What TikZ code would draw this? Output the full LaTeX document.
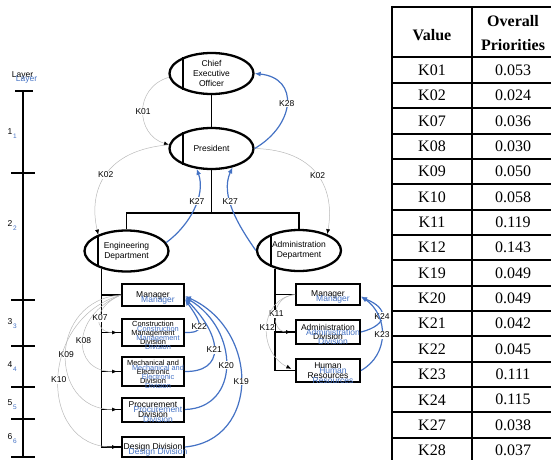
\documentclass[tikz,border=0pt]{standalone}
\usepackage{fontspec}
\setmainfont{Liberation Serif}
\setsansfont{Liberation Sans}
\usetikzlibrary{shapes.geometric,arrows.meta}
\definecolor{lblue}{RGB}{68,114,196}
\definecolor{lgray}{RGB}{185,185,185}
\newcommand{\boxfont}{\sffamily\fontsize{8.5}{9.6}\selectfont}
\newcommand{\smallboxfont}{\sffamily\fontsize{7.4}{9}\selectfont}

\begin{document}
\begin{tikzpicture}
	[x=1pt,y=-1pt,every node/.style={font=\boxfont,align=center},
	post/.style={shape=ellipse,draw,line width=2.3pt,minimum width=84,minimum height=41,inner sep=0pt},
	unit/.style={shape=rectangle,draw,line width=2pt,minimum width=62,inner sep=1pt},
	ghost/.style={text=lblue,xshift=5pt,yshift=-5pt},
	klab/.style={fill=white,inner sep=0.6pt},
	glink/.style={draw=lgray,line width=0.5pt,-{Latex[length=5pt,width=4pt,color=black]}},
	blink/.style={draw=lblue,line width=1.2pt,-{Latex[length=6pt,width=5pt]}},
	tree/.style={line width=1.2pt},
	cell/.style={font=\rmfamily\fontsize{16}{18}\selectfont},
	hcell/.style={font=\rmfamily\bfseries\fontsize{16}{24}\selectfont},
	tab/.style={line width=2pt}]
	\useasboundingbox (0,0) rectangle (551,460);
	\clip (0,0) rectangle (551,460);

	% layer scale
	\draw[tree] (23,91) -- (23,458);
	\draw[tree] (15,91) -- (33,91);
	\foreach \t in {173,300,346,387,419,457}
		\draw[tree] (11,\t) -- (35,\t);
	\node (lay) at (22.5,75) [label={[ghost,xshift=-1pt,yshift=1pt]center:Layer}] {Layer};
	\foreach \n/\y in {1/132,2/224,3/322,4/365,5/403,6/437} {
		\node (n\n) at (10,\y) {\n};
		\node[text=lblue,font=\sffamily\fontsize{6.5}{7}\selectfont] (s\n) at (15,\y+4) {\n};
	}

	% posts
	\node[post] (ceo) at (211.5,73.5) {Chief\\Executive\\Officer};
	\node[post] (pres) at (211.5,148.5) {President};
	\node[post] (eng) at (126.5,251) {Engineering\\Department};
	\node[post] (adm) at (299,250.5) {Administration\\Department};
	\foreach \e in {ceo,pres,eng,adm}
		\draw[line width=1.8pt] (\e.150) -- (\e.210);

	% units
	\node[unit,minimum height=22,label={[ghost]center:Manager}] (manE) at (153,295) {Manager};
	\node[unit,minimum height=27,font=\smallboxfont,
		label={[ghost,font=\smallboxfont]center:{Construction\\Management\\Division}}] (conE) at (153,332.5) {Construction\\Management\\Division};
	\node[unit,minimum height=29,font=\smallboxfont,
		label={[ghost,font=\smallboxfont]center:{Mechanical and\\Electronic\\Division}}] (mecE) at (153,371.5) {Mechanical and\\Electronic\\Division};
	\node[unit,minimum height=24,label={[ghost]center:{Procurement\\Division}}] (proE) at (153,409.5) {Procurement\\Division};
	\node[unit,minimum height=20,label={[ghost]center:Design Division}] (desE) at (153,447) {Design Division};
	\node[unit,minimum width=64,minimum height=21,label={[ghost]center:Manager}] (manA) at (328,294.5) {Manager};
	\node[unit,minimum width=64,minimum height=24,label={[ghost]center:{Administration\\Division}}] (admD) at (328,332) {Administration\\Division};
	\node[unit,minimum width=64,minimum height=23,label={[ghost]center:{Human\\Resources}}] (hrA) at (328,370.5) {Human\\Resources};

	% tree
	\coordinate (bar) at (211.5,213);
	\draw[tree] (ceo) -- (pres);
	\draw[tree] (pres) -- (bar);
	\draw[tree] (eng) |- (bar) -| (adm);
	\draw[tree] (eng.215) |- (desE.west);
	\foreach \b in {manE,conE,mecE,proE}
		\draw[tree] (eng.215 |- \b.west) -- (\b.west);
	\draw[tree] (adm.217) |- (hrA.west);
	\foreach \b in {manA,admD}
		\draw[tree] (adm.217 |- \b.west) -- (\b.west);

	% grey links
	\draw[glink] (ceo.185) .. controls (133,88) and (136,135) .. node[klab] (k01) {K01} (pres.175);
	\draw[glink] (pres.175) .. controls (105,150) and (88,190) .. node[klab] (k02a) {K02} (eng.150);
	\draw[glink] (pres.east) .. controls (318,150) and (335,190) .. node[klab] (k02b) {K02} (adm.30);
	\draw[glink,shorten >=4pt] (manE.west) .. controls +(-28,11.5) and +(-28,0) .. node[klab] (k07) {K07} (conE.west);
	\draw[glink,shorten >=4pt] (manE.west) .. controls +(-50,20) and +(-50,0) .. node[klab] (k08) {K08} (mecE.west);
	\draw[glink,shorten >=4pt] (manE.west) .. controls +(-73,5) and +(-73,0) .. node[klab] (k09) {K09} (proE.west);
	\draw[glink,shorten >=4pt] (manE.west) .. controls +(-83,24) and +(-83,0) .. node[klab] (k10) {K10} (desE.west);
	\draw[glink,shorten >=4pt] (manA.west) .. controls +(-25,2) and +(-25,0) .. node[klab] (k11) {K11} (admD.west);
	\draw[glink,shorten >=4pt] (manA.west) .. controls +(-37,5) and +(-37,-17.5) .. node[klab] (k12) {K12} (hrA.west);

	% blue links
	\draw[blink] (pres.east) .. controls (295,125) and (300,78) .. node[klab] (k28) {K28} (ceo.east);
	\draw[blink] (eng.12) .. controls (190,225) and (206,195) .. node[klab,pos=0.6] (k27a) {K27} (pres.234);
	\draw[blink] (adm.west) .. controls (238,225) and (220,195) .. node[klab,pos=0.6] (k27b) {K27} (pres.318);
	\draw[blink] (conE.east) .. controls (204,333) and (204,326) .. node[klab] (k22) {K22} (manE.-8);
	\draw[blink] (mecE.east) .. controls (224,372) and (224,338) .. node[klab] (k21) {K21} (manE.-6);
	\draw[blink] (proE.east) .. controls (240,408) and (240,330) .. node[klab] (k20) {K20} (manE.-4);
	\draw[blink] (desE.east) .. controls (260,440) and (260,330) .. node[klab] (k19) {K19} (manE.-2);
	\draw[blink] (admD.east) .. controls (389,325) and (389,308) .. node[klab] (k24) {K24} (manA.-5);
	\draw[blink] (hrA.east) .. controls (389,355) and (389,316) .. node[klab] (k23) {K23} (manA.-3);

	% priority table
	\draw[tab] (392,7) -- (560,7);
	\draw[line width=2.6pt] (392,6) -- (392,470);
	\draw[tab] (472,7) -- (472,470);
	\node[hcell] (hv) at (432,35) {Value};
	\node[hcell] (hp) at (513,33) {Overall\\Priorities};
	\draw[tab] (392,57.5) -- (560,57.5);
	\foreach \k/\p [count=\i] in {K01/0.053,K02/0.024,K07/0.036,K08/0.030,K09/0.050,K10/0.058,K11/0.119,K12/0.143,K19/0.049,K20/0.049,K21/0.042,K22/0.045,K23/0.111,K24/0.115,K27/0.038,K28/0.037} {
		\node[cell] (v\i) at (432,{57.5+25.35*(\i-0.5)}) {\k};
		\node[cell] (p\i) at (513,{57.5+25.35*(\i-0.5)}) {\p};
		\draw[tab] (392,{57.5+25.35*\i}) -- (560,{57.5+25.35*\i});
	}
\end{tikzpicture}
\end{document}
